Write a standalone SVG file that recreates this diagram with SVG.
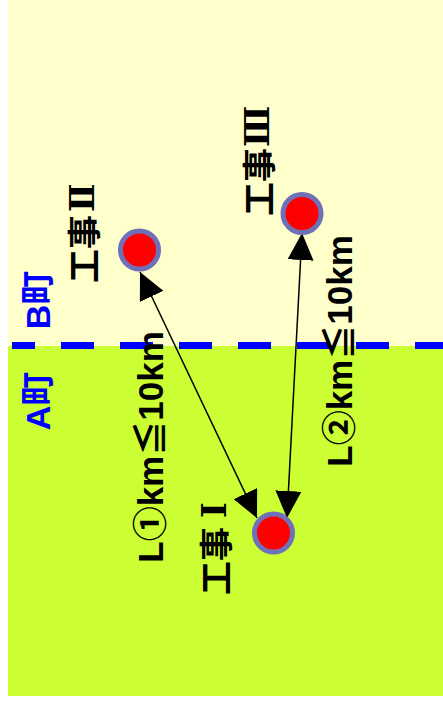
<svg xmlns="http://www.w3.org/2000/svg" width="443" height="704" viewBox="0 0 443 704">
<defs>
<style>
.cjk{font-family:"Liberation Sans","Noto Sans CJK JP",sans-serif;font-weight:bold;}
.jp{font-family:"Noto Sans CJK JP",sans-serif;font-weight:bold;font-size:34px;fill:#000;}
.num{font-family:"DejaVu Serif","Noto Sans CJK JP",serif;font-weight:bold;}
.lbl{font-size:35px;fill:#000;}
.town{font-size:34px;fill:#0000FF;}
.node{fill:#FF0000;stroke:#7070B8;stroke-width:5;}
.conn{stroke:#000;stroke-width:1.5;fill:none;marker-start:url(#arr);marker-end:url(#arr);}
</style>
<marker id="arr" markerUnits="userSpaceOnUse" viewBox="0 0 27 26" markerWidth="27" markerHeight="26" refX="27" refY="13" orient="auto-start-reverse">
<path d="M0,0 L27,13 L0,26 z" fill="#000"/>
</marker>
</defs>
<rect x="8" y="0" width="435" height="346" fill="#FFFFCC"/>
<rect x="8" y="346" width="435" height="350" fill="#CCFF33"/>
<line x1="12" y1="345.5" x2="443" y2="345.5" stroke="#0000FF" stroke-width="7" stroke-dasharray="33 26" stroke-dashoffset="10"/>
<text class="cjk town" transform="translate(50,300) rotate(-90)" text-anchor="middle">B町</text>
<text class="cjk town" transform="translate(50,401) rotate(-90)" text-anchor="middle">A町</text>
<g id="connectors">
<line class="conn" x1="140" y1="272" x2="257" y2="518"/>
<line class="conn" x1="302" y1="233" x2="287" y2="518"/>
<text class="cjk lbl" transform="translate(163,447) rotate(-90)" text-anchor="middle">L①km≦10km</text>
<text class="cjk lbl" transform="translate(352,351) rotate(-90)" text-anchor="middle">L②km≦10km</text>
</g>
<g id="node-2">
<circle class="node" cx="139.5" cy="250" r="19"/>
<text class="jp" transform="translate(82,283) rotate(-90)" dominant-baseline="central">工事<tspan class="num" x="71">Ⅱ</tspan></text>
</g>
<g id="node-3">
<circle class="node" cx="302" cy="213.5" r="19"/>
<text class="jp" transform="translate(257,216) rotate(-90)" dominant-baseline="central">工事<tspan class="num" x="69">Ⅲ</tspan></text>
</g>
<g id="node-1">
<circle class="node" cx="273.5" cy="533" r="19"/>
<text class="jp" transform="translate(214,595) rotate(-90)" dominant-baseline="central">工事<tspan class="num" x="77">Ⅰ</tspan></text>
</g>
</svg>
